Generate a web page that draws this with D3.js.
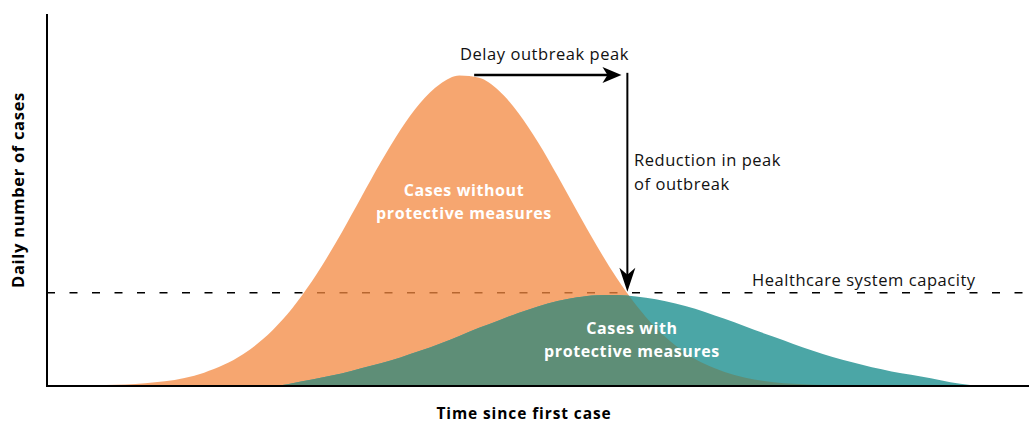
<!DOCTYPE html>
<html><head><meta charset="utf-8">
<script src="https://cdn.jsdelivr.net/npm/d3@7"></script>
<style>
html,body{margin:0;padding:0;background:#fff;}
svg{display:block;font-family:"Open Sans",sans-serif;}
</style></head>
<body><svg id="c" width="1029" height="423"></svg>
<script>
// Time (arbitrary units, 0..100) and daily cases (relative, peak of unmitigated = 100)
const timeGrid = [6,8,10,12,14,16,18,20,22,24,26,28,30,32,34,36,38,40,42,44,46,48,50,52,54,56,58,60,62,64,66,68,70,72,74,76,78,80,82,84,86,88,90,92,94,96];
const casesWithout = [0.3,0.5,0.9,1.5,2.6,4.3,6.8,10.3,15.1,21.4,29.3,38.7,49.3,60.7,72.0,82.4,91.0,97.0,99.8,99.1,95.0,87.8,78.4,67.5,56.1,45.0,34.8,26.0,18.7,13.0,8.7,5.7,3.5,2.1,1.2,0.7,0.4,0.2,0,0,0,0,0,0,0,0];
const casesWith = [0,0,0,0,0,0,0,0,0,0.3,1.5,2.7,4.0,5.7,7.3,9.2,11.3,13.6,16.1,18.7,21.1,23.5,25.6,27.3,28.5,29.2,29.3,28.8,27.9,26.5,24.8,22.7,20.5,18.1,15.8,13.5,11.3,9.3,7.6,6.0,4.7,3.6,2.5,1.2,0.3,0];
const capacity = 30;
const peakDelay = {from: 43.5, to: 58.5, level: 100};
const peakReduction = {at: 59.1, from: 100.7, to: 30.3};
const labels = {
  delay: "Delay outbreak peak",
  reduction: ["Reduction in peak", "of outbreak"],
  capacity: "Healthcare system capacity",
  without: ["Cases without", "protective measures"],
  withM: ["Cases with", "protective measures"],
  xTitle: "Time since first case",
  yTitle: "Daily number of cases"
};

const svg = d3.select("#c");
const x = d3.scaleLinear().domain([0,100]).range([47,1029]);
const y = d3.scaleLinear().domain([0,100]).range([386,75]);

const ptsA = timeGrid.map((t,i)=>[t,casesWithout[i]]);
const ptsB = timeGrid.map((t,i)=>[t,casesWith[i]]);
const area = d3.area().x(d=>x(d[0])).y0(y(0)).y1(d=>y(d[1])).curve(d3.curveMonotoneX);

// capacity line (under the semi-transparent orange)
svg.append("line").attr("x1",x(0)).attr("x2",x(100)).attr("y1",y(capacity)).attr("y2",y(capacity))
  .attr("stroke","#000").attr("stroke-width",1.6).attr("stroke-dasharray","8,14.5");

svg.append("defs").append("clipPath").attr("id","clipA").append("path").attr("d",area(ptsA));

svg.append("path").attr("d",area(ptsA)).attr("fill","rgb(243,136,64)").attr("fill-opacity",0.75);
svg.append("path").attr("d",area(ptsB)).attr("fill","#4BA6A6");
svg.append("path").attr("d",area(ptsB)).attr("fill","#5E8E77").attr("clip-path","url(#clipA)");

// axes
svg.append("line").attr("x1",x(0)).attr("x2",x(0)).attr("y1",14).attr("y2",y(0)+1).attr("stroke","#000").attr("stroke-width",2);
svg.append("line").attr("x1",x(0)-1).attr("x2",x(100)).attr("y1",y(0)).attr("y2",y(0)).attr("stroke","#000").attr("stroke-width",2);

// arrows
const ax1 = x(peakDelay.from), ax2 = x(peakDelay.to), ay = y(peakDelay.level);
svg.append("line").attr("x1",ax1).attr("x2",ax2-12).attr("y1",ay).attr("y2",ay).attr("stroke","#000").attr("stroke-width",2.5);
svg.append("path").attr("d",`M${ax2},${ay} L${ax2-19},${ay-8} L${ax2-14},${ay} L${ax2-19},${ay+8} Z`).attr("fill","#000");

const vx = x(peakReduction.at), vy1 = y(peakReduction.from), vy2 = y(peakReduction.to);
svg.append("line").attr("x1",vx).attr("x2",vx).attr("y1",vy1).attr("y2",vy2-12).attr("stroke","#000").attr("stroke-width",2);
svg.append("path").attr("d",`M${vx},${vy2} L${vx-8},${vy2-24} L${vx},${vy2-17} L${vx+8},${vy2-24} Z`).attr("fill","#000");

// texts
const t = (s,xx,yy,o={}) => svg.append("text").attr("x",xx).attr("y",yy).text(s)
  .attr("font-size",o.size||16.5).attr("font-weight",o.weight||400).attr("fill",o.fill||"#111")
  .attr("letter-spacing",o.ls!=null?o.ls:0.55)
  .attr("text-anchor",o.anchor||"start");
t(labels.delay, 460, 60);
t(labels.reduction[0], 634, 166);
t(labels.reduction[1], 634, 190);
t(labels.capacity, 752, 286);
const wb = {weight:700, fill:"#fff", anchor:"middle", size:16, ls:0.6};
t(labels.without[0], 464, 196, wb);
t(labels.without[1], 464, 219, wb);
t(labels.withM[0], 632, 334, wb);
t(labels.withM[1], 632, 357, wb);
t(labels.xTitle, 524, 419, {weight:700, anchor:"middle", size:15.5, fill:"#000", ls:0.9});
svg.append("text").attr("transform","translate(24,190) rotate(-90)").attr("text-anchor","middle")
  .attr("font-size",16.5).attr("font-weight",700).attr("fill","#000").attr("letter-spacing",0.7).text(labels.yTitle);
</script></body></html>
